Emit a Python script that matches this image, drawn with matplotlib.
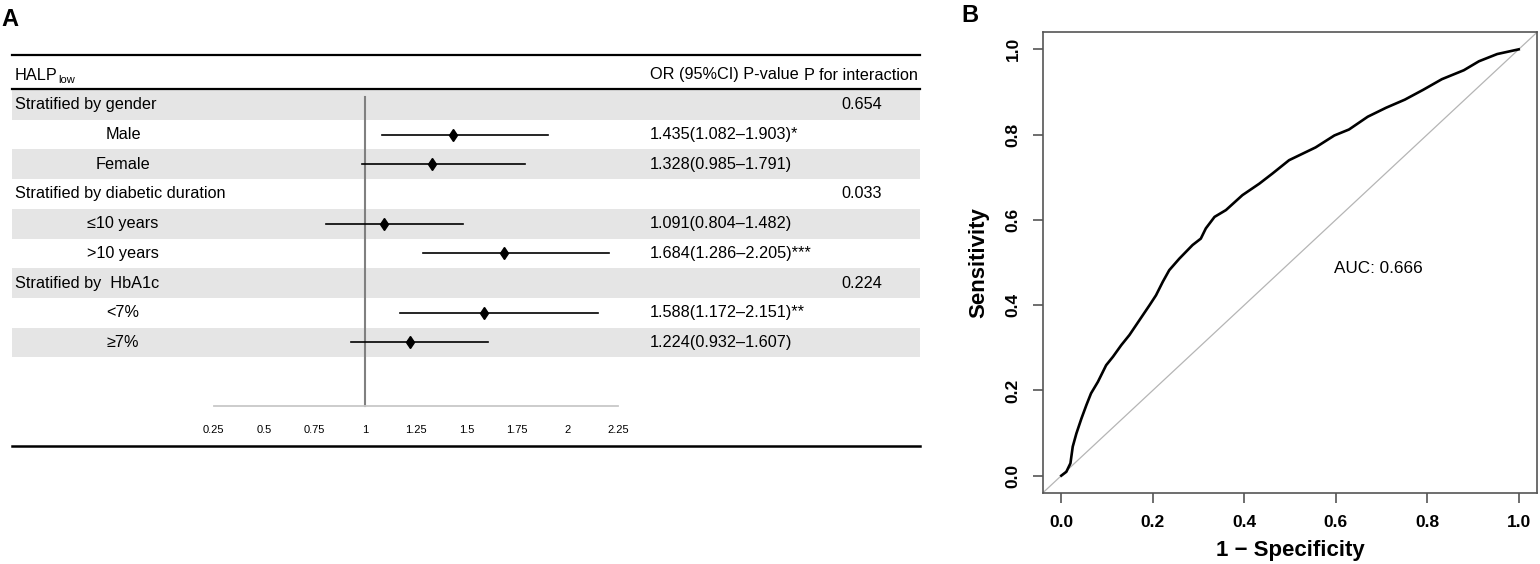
import matplotlib
matplotlib.use("Agg")
import matplotlib.pyplot as plt
import numpy as np

plt.rcParams["font.family"] = ["Liberation Sans", "DejaVu Sans"]

# ---- panel A data ----
row_labels = ["Stratified by gender", "Male", "Female",
              "Stratified by diabetic duration", "\u226410 years", ">10 years",
              "Stratified by  HbA1c", "<7%", "\u22657%"]
is_group = [True, False, False, True, False, False, True, False, False]
odds = [None, 1.435, 1.328, None, 1.091, 1.684, None, 1.588, 1.224]
ci_low = [None, 1.082, 0.985, None, 0.804, 1.286, None, 1.172, 0.932]
ci_high = [None, 1.903, 1.791, None, 1.482, 2.205, None, 2.151, 1.607]
stars = ["", "*", "", "", "", "***", "", "**", ""]
p_interaction = ["0.654", "", "", "0.033", "", "", "0.224", "", ""]
or_ticks = [0.25, 0.5, 0.75, 1, 1.25, 1.5, 1.75, 2, 2.25]

# ---- panel B data ----
fpr = [0, 0.011, 0.020, 0.025, 0.033, 0.044, 0.055, 0.065, 0.080, 0.098,
       0.113, 0.131, 0.149, 0.171, 0.193, 0.207, 0.222, 0.236, 0.258, 0.287,
       0.305, 0.316, 0.335, 0.360, 0.396, 0.433, 0.462, 0.498, 0.556, 0.597,
       0.629, 0.670, 0.710, 0.751, 0.791, 0.832, 0.880, 0.913, 0.953, 1.0]
tpr = [0, 0.009, 0.029, 0.068, 0.099, 0.134, 0.166, 0.193, 0.220, 0.259,
       0.279, 0.306, 0.330, 0.365, 0.400, 0.423, 0.455, 0.482, 0.509, 0.541,
       0.556, 0.580, 0.607, 0.623, 0.658, 0.685, 0.709, 0.740, 0.770, 0.798,
       0.812, 0.842, 0.863, 0.882, 0.905, 0.930, 0.951, 0.972, 0.989, 1.0]
auc = 0.666

W, H = 1540, 564
fig = plt.figure(figsize=(W / 100, H / 100), dpi=100)

# layout axes in pixel units for the table part
lay = fig.add_axes([0, 0, 1, 1])
lay.set_xlim(0, W)
lay.set_ylim(H, 0)
lay.axis("off")

ROW_TOP = 90
ROW_H = 29.7
AXIS_Y = 406
X0, X1 = 12, 920
FS = 11.7

for i, label in enumerate(row_labels):
    y0 = ROW_TOP + ROW_H * i
    yc = y0 + ROW_H / 2
    if i % 2 == 0:
        lay.fill_between([X0, X1], y0, y0 + ROW_H, color="#e5e5e5", lw=0)
    if is_group[i]:
        lay.text(15, yc, label, ha="left", va="center", fontsize=FS)
    else:
        lay.text(123, yc, label, ha="center", va="center", fontsize=FS)
        txt = f"{odds[i]:.3f}({ci_low[i]:.3f}\u2013{ci_high[i]:.3f}){stars[i]}"
        lay.text(650, yc, txt, ha="left", va="center", fontsize=FS)
    if p_interaction[i]:
        lay.text(862, yc, p_interaction[i], ha="center", va="center", fontsize=FS)

# header
halp = lay.text(15, 75, "HALP", ha="left", va="center", fontsize=FS)
lay.annotate("low", xy=(1, 0), xycoords=halp, xytext=(0.5, -2),
             textcoords="offset points", ha="left", va="bottom", fontsize=8)
lay.text(650, 75, "OR (95%CI) P-value", ha="left", va="center", fontsize=FS)
lay.text(918, 75, "P for interaction", ha="right", va="center", fontsize=FS)

lay.plot([X0, X1], [55, 55], color="black", lw=1.6)
lay.plot([X0, X1], [89, 89], color="black", lw=1.6)
lay.plot([X0, X1], [446, 446], color="black", lw=1.8)

lay.text(1, 8, "A", ha="left", va="top", fontsize=17, fontweight="bold")
lay.text(961, 4, "B", ha="left", va="top", fontsize=17, fontweight="bold")

# forest axes
fx0, fx1 = 213.5, 618
fst = fig.add_axes([fx0 / W, (H - AXIS_Y) / H, (fx1 - fx0) / W, (AXIS_Y - ROW_TOP) / H])
fst.set_facecolor("none")
y_bottom = (AXIS_Y - ROW_TOP) / ROW_H - 0.5
fst.set_xlim(0.25, 2.25)
fst.set_ylim(y_bottom, -0.5)
for s in ["top", "left", "right"]:
    fst.spines[s].set_visible(False)
fst.spines["bottom"].set_color("#c8c8c8")
fst.spines["bottom"].set_linewidth(1.3)
fst.set_yticks([])
fst.set_xticks(or_ticks)
fst.set_xticklabels([f"{t:g}" for t in or_ticks], fontsize=8)
fst.tick_params(axis="x", length=0, pad=14)

ref_top = (97 - ROW_TOP) / ROW_H - 0.5
fst.plot([1, 1], [ref_top, y_bottom], color="#808080", lw=1.5, clip_on=False, zorder=1)

for i in range(len(row_labels)):
    if odds[i] is None:
        continue
    fst.plot([ci_low[i], ci_high[i]], [i, i], color="black", lw=1.2, zorder=2)
    fst.plot(odds[i], i, marker="d", color="black", markersize=6.5, zorder=3)

# ROC axes
roc = fig.add_axes([1043 / W, (H - 492.7) / H, 494 / W, 460.4 / H])
roc.plot(fpr, tpr, color="black", lw=1.9, zorder=3)
roc.axline((0, 0), (1, 1), color="#b5b5b5", lw=0.9, zorder=2)
roc.set_xlim(-0.04, 1.04)
roc.set_ylim(-0.04, 1.04)
ticks = [0, 0.2, 0.4, 0.6, 0.8, 1.0]
roc.set_xticks(ticks)
roc.set_yticks(ticks)
roc.set_xticklabels([f"{t:.1f}" for t in ticks], fontsize=12.5, fontweight="bold")
roc.set_yticklabels([f"{t:.1f}" for t in ticks], fontsize=12.5, fontweight="bold",
                    rotation=90, va="center")
for s in roc.spines.values():
    s.set_color("#555555")
    s.set_linewidth(1.2)
roc.tick_params(length=7, width=1.2, color="#555555", pad=9)
roc.set_xlabel("1 \u2212 Specificity", fontsize=16, fontweight="bold")
roc.set_ylabel("Sensitivity", fontsize=16, fontweight="bold")
roc.xaxis.label.set_va("center")
roc.yaxis.label.set_va("center")
roc.xaxis.set_label_coords(0.5, -0.1245)
roc.yaxis.set_label_coords(-0.130, 0.5)
roc.text(0.693, 0.486, f"AUC: {auc:.3f}", ha="center", va="center", fontsize=12.3)

fig.savefig("out.png", dpi=100)
